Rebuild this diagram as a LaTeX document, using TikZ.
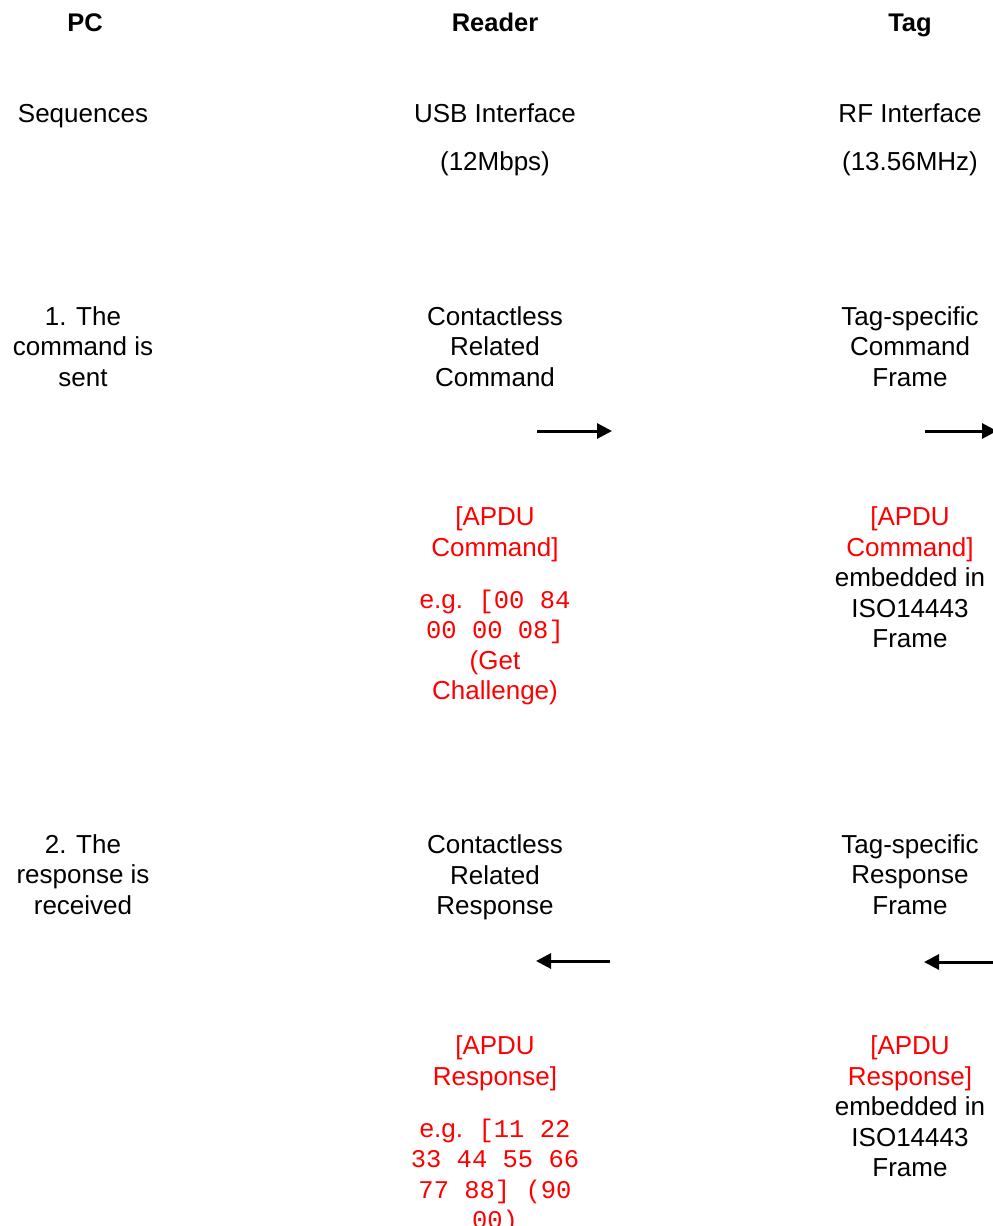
\documentclass[tikz,border=0pt]{standalone}
\usepackage{fontspec}
\setmainfont{Liberation Sans}
\setmonofont{Liberation Mono}
\usetikzlibrary{arrows.meta}
\definecolor{apdured}{RGB}{255,0,0}
\tikzset{
  lbl/.style={font=\fontsize{26}{30.5}\selectfont, align=center, inner sep=0pt, anchor=center},
  hdr/.style={font=\fontsize{25.5}{30.5}\selectfont\bfseries, inner sep=0pt, anchor=base},
  apdu/.style={lbl, text=apdured},
  flow/.style={line width=3pt, -{Triangle[length=15pt,width=15pt]}}
}
\newcommand{\hx}[1]{{\fontsize{25.5}{30}\selectfont\ttfamily #1}}
\begin{document}
\begin{tikzpicture}[x=1pt,y=-1pt]
\useasboundingbox (0,0) rectangle (993,1226);
\node[hdr] (pc) at (85,31) {PC};
\node[hdr] (reader) at (495,31) {Reader};
\node[hdr] (tag) at (910,31) {Tag};

\node[lbl] (seq) at (83,116) {Sequences};
\node[lbl] (usb) at (495,140) {USB Interface\\[17.5pt](12Mbps)};
\node[lbl] (rf) at (910,140) {RF Interface\\[17.5pt](13.56MHz)};

\node[lbl] (step1) at (83,346.5) {1. The\\command is\\sent};
\node[lbl] (crc) at (495,346.5) {Contactless\\Related\\Command};
\node[lbl] (tcf) at (910,346.5) {Tag-specific\\Command\\Frame};

\coordinate (a1s) at (537,431);
\coordinate (a1e) at (612,431);
\coordinate (a2s) at (925,431);
\coordinate (a2e) at (997,431);
\draw[flow] (a1s) -- (a1e);
\draw[flow] (a2s) -- (a2e);

\node[apdu] (apduc) at (495,534.5) {[APDU\\Command]};
\node[apdu] (eg1) at (495,647.5) {e.g.\hspace{0.6em}\hx{[00 84}\\\hx{00 00 08]}\\(Get\\Challenge)};
\node[lbl] (tagc) at (910,577.5) {\textcolor{apdured}{[APDU}\\\textcolor{apdured}{Command]}\\embedded in\\ISO14443\\Frame};

\node[lbl] (step2) at (83,874.5) {2. The\\response is\\received};
\node[lbl] (crr) at (495,877.5) {Contactless\\Related\\Response};
\node[lbl] (tcr) at (910,874.5) {Tag-specific\\Response\\Frame};

\coordinate (b1s) at (610,961);
\coordinate (b1e) at (536,961);
\coordinate (b2s) at (997,962);
\coordinate (b2e) at (924,962);
\draw[flow] (b1s) -- (b1e);
\draw[flow] (b2s) -- (b2e);

\node[apdu] (apdur) at (495,1063.5) {[APDU\\Response]};
\node[apdu] (eg2) at (495,1176.5) {e.g.\hspace{0.6em}\hx{[11 22}\\\hx{33 44 55 66}\\\hx{77 88] (90}\\\hx{00)}};
\node[lbl] (tagr) at (910,1106.5) {\textcolor{apdured}{[APDU}\\\textcolor{apdured}{Response]}\\embedded in\\ISO14443\\Frame};
\end{tikzpicture}
\end{document}
